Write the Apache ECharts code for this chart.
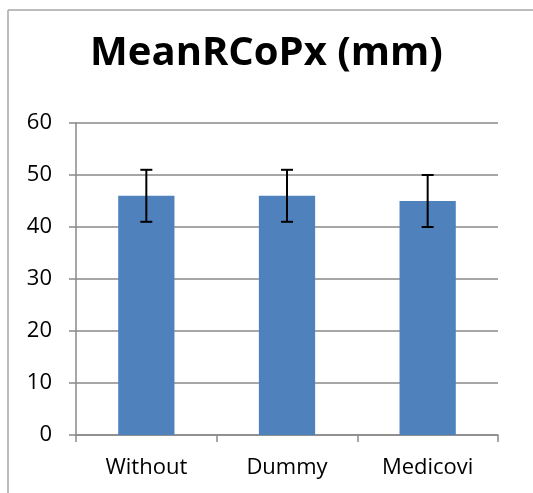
<!DOCTYPE html>
<html>
<head>
<meta charset="utf-8">
<script src="https://cdn.jsdelivr.net/npm/echarts@6/dist/echarts.min.js"></script>
<style>
	html, body { margin: 0; padding: 0; background: #fff; }
	#main { width: 533px; height: 493px; }
</style>
</head>
<body>
<div id="main"></div>
<script>
var categories = ['Without', 'Dummy', 'Medicovi'];
var means = [46, 46, 45];
var errLow = [41, 41, 40];
var errHigh = [51, 51, 50];

var chartDom = document.getElementById('main');
var myChart = echarts.init(chartDom);
var option;

var errData = categories.map(function (c, i) {
	return [i, errLow[i], errHigh[i]];
});

var borderStyle = { stroke: '#a6a6a6', lineWidth: 1.5 };

option = {
	animation: false,
	textStyle: { fontFamily: 'Open Sans' },
	title: {
		text: 'MeanRCoPx (mm)',
		left: 'center',
		top: 29,
		textStyle: {
			fontSize: 40,
			fontWeight: 'bold',
			color: '#000',
			fontFamily: 'Open Sans'
		}
	},
	graphic: [
		{ type: 'line', silent: true, shape: { x1: 8, y1: 10, x2: 560, y2: 10 }, style: borderStyle },
		{ type: 'line', silent: true, shape: { x1: 8, y1: 10, x2: 8, y2: 520 }, style: borderStyle }
	],
	grid: {
		left: 76,
		right: 35,
		top: 123,
		bottom: 58
	},
	xAxis: {
		type: 'category',
		data: categories,
		axisLine: { lineStyle: { color: '#898989', width: 1.5 } },
		axisTick: { show: true, length: 7, lineStyle: { color: '#898989', width: 1.5 } },
		axisLabel: { fontSize: 22, color: '#000', margin: 22 }
	},
	yAxis: {
		type: 'value',
		min: 0,
		max: 60,
		interval: 10,
		axisLine: { show: true, lineStyle: { color: '#898989', width: 1.5 } },
		axisTick: { show: true, length: 7, lineStyle: { color: '#898989', width: 1.5 } },
		axisLabel: { fontSize: 22, color: '#000', margin: 24 },
		splitLine: { show: true, lineStyle: { color: '#898989', width: 1.5 } }
	},
	series: [
		{
			type: 'bar',
			data: means,
			barWidth: '40%',
			itemStyle: { color: '#4F81BD' }
		},
		{
			type: 'custom',
			data: errData,
			z: 10,
			renderItem: function (params, api) {
				var x = api.value(0);
				var lo = api.coord([x, api.value(1)]);
				var hi = api.coord([x, api.value(2)]);
				var cap = 6;
				var st = { stroke: '#000', lineWidth: 2 };
				return {
					type: 'group',
					children: [
						{ type: 'line', shape: { x1: hi[0], y1: hi[1], x2: lo[0], y2: lo[1] }, style: st },
						{ type: 'line', shape: { x1: hi[0] - cap, y1: hi[1], x2: hi[0] + cap, y2: hi[1] }, style: st },
						{ type: 'line', shape: { x1: lo[0] - cap, y1: lo[1], x2: lo[0] + cap, y2: lo[1] }, style: st }
					]
				};
			}
		}
	]
};

option && myChart.setOption(option);
</script>
</body>
</html>
